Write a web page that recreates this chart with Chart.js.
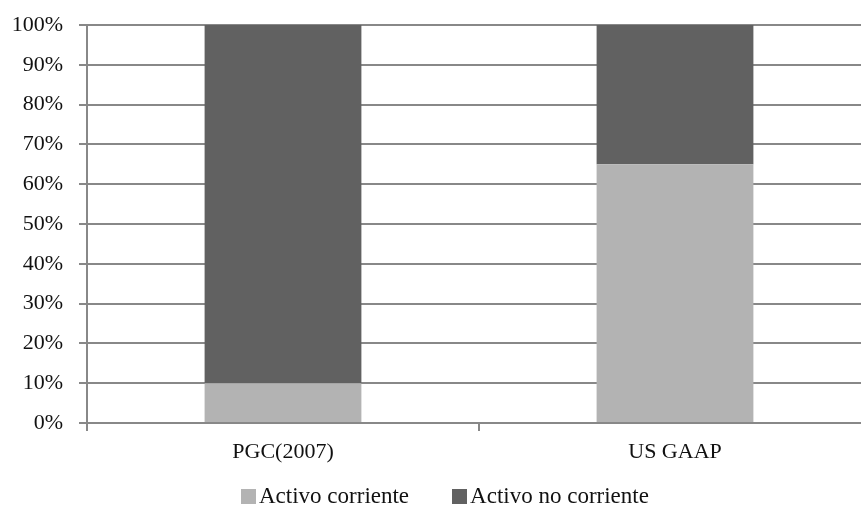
<!DOCTYPE html>
<html>
<head>
<meta charset="utf-8">
<script src="https://cdn.jsdelivr.net/npm/chart.js@4/dist/chart.umd.min.js"></script>
<style>
  html, body { margin: 0; padding: 0; background: #fff; overflow: hidden; }
  #wrap { position: relative; width: 861px; height: 514px; overflow: hidden; }
  #chart { position: absolute; left: 0; top: 0; }
  #legend {
    position: absolute; left: 241px; top: 483px;
    font-family: "Liberation Serif", "Times New Roman", serif;
    font-size: 23px; color: #111; white-space: nowrap;
  }
  #legend .item { display: inline-block; margin-right: 43px; }
  #legend .box { display: inline-block; width: 15px; height: 15px; margin-right: 3px; vertical-align: -1px; }
</style>
</head>
<body>
<div id="wrap">
  <canvas id="chart" width="873" height="514"></canvas>
  <div id="legend"></div>
</div>
<script>
// Balance structure under each accounting framework (share of total assets, %)
const categories = ['PGC(2007)', 'US GAAP'];
const seriesNames = ['Activo corriente', 'Activo no corriente'];
const activoCorriente = [10, 65];
const activoNoCorriente = [90, 35];
const yTicks = [0, 10, 20, 30, 40, 50, 60, 70, 80, 90, 100];

const colors = ['#b3b3b3', '#616161'];
const gridColor = '#888888';
const fontFamily = '"Liberation Serif", "Times New Roman", serif';

const datasets = [activoCorriente, activoNoCorriente].map((values, i) => ({
  label: seriesNames[i],
  data: values,
  backgroundColor: colors[i],
  borderWidth: 0,
  barPercentage: 0.4,
  categoryPercentage: 1.0
}));

new Chart(document.getElementById('chart'), {
  type: 'bar',
  data: { labels: categories, datasets },
  options: {
    responsive: false,
    animation: false,
    layout: { padding: { top: 25, right: 2, left: 0, bottom: 0 } },
    plugins: { legend: { display: false }, tooltip: { enabled: false } },
    scales: {
      x: {
        stacked: true,
        grid: { display: true, drawOnChartArea: false, drawTicks: true, tickLength: 8, color: gridColor, lineWidth: 2, offset: true },
        border: { display: true, color: gridColor, width: 2 },
        ticks: { color: '#111', padding: 8, font: { family: fontFamily, size: 22 } },
        afterFit: (scale) => { scale.height = 91; scale.paddingLeft = 0; scale.paddingRight = 0; }
      },
      y: {
        stacked: true,
        min: 0,
        max: 100,
        afterBuildTicks: (scale) => { scale.ticks = yTicks.map(v => ({ value: v })); },
        grid: { color: gridColor, lineWidth: 2, tickLength: 8, drawTicks: true },
        border: { display: true, color: gridColor, width: 2 },
        ticks: {
          color: '#111',
          padding: 16,
          font: { family: fontFamily, size: 22 },
          callback: (v) => v + '%'
        },
        afterFit: (scale) => { scale.width = 87; scale.paddingTop = 0; scale.paddingBottom = 0; }
      }
    }
  }
});

// Legend row built from the same series names and colours
const legend = document.getElementById('legend');
seriesNames.forEach((name, i) => {
  const item = document.createElement('span');
  item.className = 'item';
  const box = document.createElement('span');
  box.className = 'box';
  box.style.background = colors[i];
  item.appendChild(box);
  item.appendChild(document.createTextNode(name));
  legend.appendChild(item);
});
</script>
</body>
</html>
